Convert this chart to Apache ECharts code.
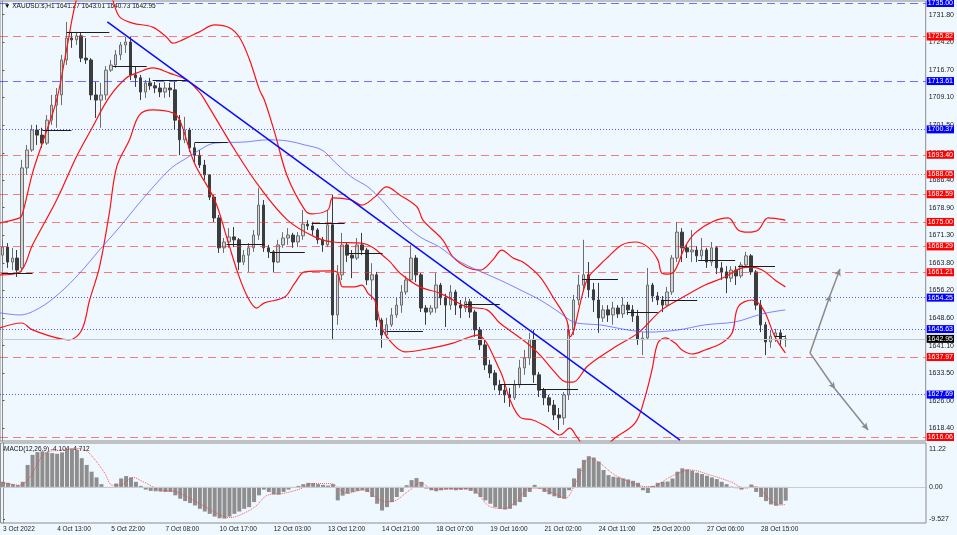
<!DOCTYPE html>
<html>
<head>
<meta charset="utf-8">
<script src="https://cdn.jsdelivr.net/npm/echarts@6/dist/echarts.min.js"></script>
<style>
  html, body { margin: 0; padding: 0; background: #f0f8ff; }
  #chart { width: 957px; height: 535px; }
</style>
</head>
<body>
<div id="chart"></div>
<script>
// XAUUSD.s H1, resampled to 3-hour candles: [open, close, low, high]
const candles = [
  [1665.9,1668.1,1663.7,1670.1],[1668.1,1664.0,1662.4,1669.2],[1664.0,1665.1,1661.8,1667.9],[1665.1,1661.8,1659.9,1667.3],
  [1662.4,1689.8,1661.3,1692.0],[1689.8,1694.7,1687.9,1696.1],[1694.7,1700.2,1694.2,1701.6],[1700.2,1698.8,1696.1,1701.6],
  [1698.8,1696.6,1695.3,1700.8],[1696.6,1702.9,1696.1,1704.3],[1702.9,1707.0,1701.6,1709.8],[1707.0,1709.8,1700.8,1711.7],
  [1709.8,1719.4,1707.0,1720.8],[1719.4,1725.4,1718.0,1729.8],[1725.4,1724.9,1722.7,1727.1],[1724.9,1726.0,1723.5,1727.1],
  [1726.0,1719.9,1718.8,1726.8],[1719.9,1719.4,1718.3,1725.4],[1719.4,1709.8,1708.4,1719.9],[1709.8,1708.4,1703.5,1713.4],
  [1708.4,1709.8,1700.8,1713.1],[1709.8,1716.6,1708.4,1717.7],[1716.6,1718.0,1716.1,1719.4],[1718.0,1720.8,1717.2,1722.1],
  [1720.8,1723.5,1719.4,1724.3],[1723.5,1724.3,1721.3,1725.7],[1724.3,1715.3,1713.9,1725.7],[1715.3,1714.5,1712.0,1717.7],
  [1714.5,1710.6,1708.4,1715.3],[1710.6,1713.1,1709.0,1713.9],[1713.1,1712.3,1711.2,1714.5],[1712.3,1711.7,1710.3,1713.4],
  [1711.7,1710.6,1709.2,1713.1],[1710.6,1711.7,1709.0,1713.4],[1711.7,1711.2,1709.2,1713.1],[1711.2,1702.9,1700.2,1713.4],
  [1702.9,1697.5,1693.3,1704.3],[1697.5,1700.2,1696.6,1703.8],[1700.2,1695.3,1694.2,1700.8],[1695.3,1693.3,1691.4,1696.6],
  [1693.3,1690.6,1689.8,1694.7],[1690.6,1687.9,1686.5,1692.0],[1687.9,1681.8,1681.0,1687.9],[1681.8,1676.1,1675.0,1682.4],
  [1676.1,1667.9,1666.5,1676.9],[1667.9,1669.5,1666.5,1670.6],[1669.5,1670.9,1667.9,1673.3],[1670.9,1670.1,1668.1,1673.6],
  [1670.1,1664.0,1661.8,1670.6],[1664.0,1665.9,1663.2,1667.3],[1665.9,1667.9,1661.3,1669.2],[1667.9,1671.4,1666.8,1672.8],
  [1671.4,1679.6,1670.1,1684.3],[1679.6,1667.9,1666.8,1681.0],[1667.9,1666.8,1665.1,1668.7],[1666.8,1664.0,1661.3,1667.3],
  [1664.0,1668.7,1663.7,1670.1],[1668.7,1670.6,1667.9,1672.2],[1670.6,1671.4,1668.7,1673.3],[1671.4,1669.5,1667.9,1672.0],
  [1669.5,1671.2,1668.1,1672.2],[1671.2,1674.4,1670.1,1678.3],[1674.4,1673.9,1672.8,1675.5],[1673.9,1672.8,1671.4,1675.0],
  [1672.8,1670.1,1669.0,1673.3],[1670.1,1668.7,1666.8,1670.9],[1668.7,1674.2,1668.1,1678.3],[1674.2,1649.5,1642.7,1682.4],
  [1649.5,1660.5,1646.8,1663.2],[1660.5,1668.7,1659.1,1672.0],[1668.7,1665.9,1664.0,1669.5],[1665.9,1665.1,1659.6,1667.3],
  [1665.1,1668.7,1664.6,1670.6],[1668.7,1667.3,1665.9,1672.0],[1667.3,1659.1,1657.7,1667.9],[1659.1,1660.5,1653.6,1663.7],
  [1660.5,1648.1,1646.2,1661.3],[1648.1,1644.0,1640.5,1648.7],[1644.0,1646.8,1643.2,1648.7],[1646.8,1649.5,1646.2,1651.4],
  [1649.5,1652.2,1648.7,1654.2],[1652.2,1655.8,1650.1,1657.7],[1655.8,1659.1,1655.0,1660.2],[1659.1,1665.1,1658.5,1668.7],
  [1665.1,1660.5,1658.5,1665.9],[1660.5,1651.4,1650.3,1661.0],[1651.4,1650.3,1646.8,1652.2],[1650.3,1651.4,1649.5,1652.2],
  [1651.4,1657.7,1650.1,1661.0],[1657.7,1654.2,1652.2,1658.3],[1654.2,1652.2,1646.2,1655.3],[1652.2,1655.8,1650.9,1657.7],
  [1655.8,1652.2,1649.5,1656.4],[1652.2,1651.4,1648.7,1653.6],[1651.4,1653.1,1650.3,1654.4],[1653.1,1650.3,1648.7,1653.9],
  [1650.3,1645.4,1643.5,1650.9],[1645.4,1641.3,1639.9,1646.2],[1641.3,1635.8,1634.4,1642.7],[1635.8,1633.6,1632.2,1637.2],
  [1633.6,1630.3,1628.9,1634.4],[1630.3,1628.9,1627.6,1631.7],[1628.9,1627.6,1625.4,1630.3],[1627.6,1626.8,1624.3,1629.5],
  [1626.8,1630.3,1626.2,1631.7],[1630.3,1635.0,1629.5,1637.2],[1635.0,1637.7,1633.1,1639.9],[1637.7,1642.7,1635.8,1644.6],
  [1642.7,1633.1,1630.9,1645.4],[1633.1,1628.9,1627.0,1633.9],[1628.9,1626.8,1624.8,1629.5],[1626.8,1624.8,1622.9,1627.6],
  [1624.8,1622.1,1620.7,1626.2],[1622.1,1621.3,1618.0,1624.0],[1621.3,1627.6,1619.4,1628.4],[1627.6,1645.4,1626.2,1646.8],
  [1645.4,1653.6,1644.0,1655.0],[1653.6,1657.7,1652.2,1660.5],[1657.7,1660.5,1655.8,1670.1],[1660.5,1656.4,1654.4,1664.0],
  [1656.4,1653.6,1650.3,1658.3],[1653.6,1648.7,1644.6,1658.3],[1648.7,1650.9,1647.6,1652.2],[1650.9,1649.5,1647.6,1652.2],
  [1649.5,1651.4,1646.8,1653.1],[1651.4,1649.8,1648.7,1652.2],[1649.8,1652.2,1648.7,1654.4],[1652.2,1650.9,1649.5,1653.1],
  [1650.9,1649.2,1647.6,1652.2],[1649.2,1642.7,1641.3,1650.9],[1642.7,1643.2,1638.5,1644.8],[1643.2,1657.7,1642.7,1662.4],
  [1657.7,1654.7,1653.1,1658.3],[1654.7,1653.6,1652.2,1655.8],[1653.6,1652.2,1650.3,1654.7],[1652.2,1655.8,1652.0,1657.2],
  [1655.8,1665.1,1655.0,1665.9],[1665.1,1672.2,1664.0,1675.0],[1672.2,1667.9,1664.0,1673.3],[1667.9,1666.8,1665.1,1668.7],
  [1666.8,1667.3,1664.0,1672.8],[1667.3,1665.7,1664.0,1668.4],[1665.7,1667.3,1664.6,1670.6],[1667.3,1664.0,1662.4,1667.9],
  [1664.0,1667.9,1662.9,1669.5],[1667.9,1662.4,1660.7,1668.4],[1662.4,1661.3,1659.1,1664.0],[1661.3,1659.6,1655.5,1662.9],
  [1659.6,1661.8,1658.5,1662.9],[1661.8,1660.2,1657.7,1662.9],[1660.2,1663.2,1659.6,1664.0],[1663.2,1665.7,1662.9,1666.8],
  [1665.7,1661.3,1660.5,1666.2],[1661.3,1652.2,1650.9,1661.8],[1652.2,1646.8,1644.8,1653.6],[1646.8,1642.1,1638.5,1647.6],
  [1642.1,1643.7,1640.5,1645.4],[1643.7,1644.6,1642.1,1645.7],[1644.6,1642.7,1641.3,1645.4],[1642.7,1642.95,1640.7,1644.0]
];

// indicator curves, [bar index, price]
const bbUpper = [
  [-0.6,1674.7],[3.5,1676.1],[4.1,1677.4],[6.1,1688.4],[8.1,1696.6],[11.0,1708.4],[13.0,1722.1],[15.0,1735.8],
  [17.7,1745.4],[19.7,1746.2],[22.4,1735.8],[23.8,1731.2],[26.4,1729.5],[30.5,1728.4],[33.3,1725.7],[34.6,1724.0],
  [36.6,1724.9],[40.0,1727.1],[43.1,1729.0],[46.1,1728.2],[48.2,1725.4],[50.2,1719.4],[52.2,1711.2],[53.2,1708.4],
  [55.3,1699.4],[57.9,1687.3],[61.4,1678.3],[62.8,1677.2],[66.1,1678.3],[67.1,1681.6],[70.9,1681.0],[73.0,1679.6],
  [75.6,1681.8],[78.0,1684.6],[80.7,1682.4],[84.2,1679.1],[85.4,1675.5],[89.4,1670.1],[91.5,1665.4],[94.3,1662.6],
  [97.0,1661.8],[99.6,1664.6],[101.4,1667.3],[103.7,1665.1],[105.7,1664.0],[109.2,1659.9],[111.8,1654.4],[114.6,1648.1],
  [115.2,1643.5],[118.7,1659.1],[121.3,1663.2],[123.0,1665.4],[125.8,1668.7],[128.5,1669.5],[131.1,1668.1],[133.1,1664.6],
  [133.9,1661.0],[135.2,1660.7],[136.6,1661.8],[138.6,1668.1],[140.7,1672.0],[144.1,1675.0],[147.4,1676.1],[149.4,1672.8],
  [151.4,1672.2],[153.5,1672.8],[155.5,1676.1],[159.0,1675.5]
];
const bbMiddle = [
  [-0.6,1660.5],[3.5,1661.3],[6.1,1668.7],[11.0,1681.0],[15.0,1692.8],[18.3,1701.0],[21.7,1709.2],[25.2,1714.5],
  [27.8,1716.1],[30.5,1717.2],[33.9,1715.8],[37.4,1713.9],[40.0,1710.6],[41.1,1708.4],[47.2,1694.7],[52.2,1684.6],
  [57.9,1675.5],[63.4,1670.9],[67.1,1669.5],[73.0,1669.2],[78.3,1664.6],[80.7,1661.0],[84.8,1657.2],[88.8,1655.5],
  [91.5,1653.6],[94.3,1651.7],[98.4,1650.9],[101.0,1647.3],[103.7,1644.6],[106.5,1641.8],[109.2,1638.5],[111.8,1634.4],
  [114.6,1631.1],[115.9,1631.1],[118.7,1635.3],[121.3,1638.0],[124.4,1640.7],[129.1,1644.6],[133.9,1650.9],[138.0,1654.2],
  [142.7,1657.7],[146.7,1659.9],[150.2,1662.4],[152.2,1662.6],[154.3,1661.8],[156.9,1659.1],[159.0,1657.2]
];
const bbLower = [
  [-0.6,1645.9],[3.9,1647.3],[6.1,1645.4],[13.6,1642.7],[16.1,1645.4],[17.7,1653.6],[19.7,1662.6],[21.7,1677.4],
  [23.2,1690.1],[25.8,1697.5],[27.8,1704.3],[30.5,1705.7],[34.6,1704.9],[36.0,1702.9],[39.0,1691.1],[43.1,1681.0],
  [45.7,1670.1],[47.8,1661.0],[49.8,1654.4],[51.6,1651.4],[53.2,1652.8],[57.3,1654.4],[59.4,1658.3],[61.4,1661.3],
  [66.9,1661.6],[68.1,1661.0],[69.1,1657.2],[71.5,1657.2],[73.0,1657.7],[74.2,1655.5],[75.6,1653.6],[77.0,1646.2],
  [79.1,1641.8],[81.7,1639.4],[87.4,1640.5],[91.5,1641.8],[94.3,1643.2],[96.4,1644.0],[101.0,1634.4],[103.1,1626.2],
  [105.1,1621.5],[107.7,1620.7],[110.6,1618.8],[113.2,1616.6],[115.2,1618.5],[116.7,1616.0],[119.3,1612.0],[121.9,1613.0],
  [124.4,1615.8],[128.5,1619.9],[130.5,1627.0],[131.9,1634.4],[133.1,1641.8],[134.6,1643.2],[136.6,1641.8],[138.0,1639.9],
  [140.0,1638.8],[142.7,1639.9],[146.1,1641.8],[148.2,1644.6],[149.4,1651.7],[152.2,1653.6],[153.5,1652.8],[154.9,1650.1],
  [156.9,1643.5],[159.0,1639.1]
];
const slowMa = [
  [-0.6,1650.1],[3.5,1649.5],[7.5,1651.4],[11.6,1655.5],[15.7,1661.0],[19.7,1667.3],[23.8,1673.6],[27.8,1680.2],
  [31.9,1686.5],[34.6,1690.1],[37.4,1692.5],[40.0,1694.7],[43.1,1696.6],[49.2,1696.9],[53.9,1697.5],[57.9,1697.2],
  [61.4,1696.1],[64.9,1694.7],[67.5,1691.4],[70.9,1687.3],[74.2,1684.6],[77.0,1681.0],[80.7,1675.5],[84.8,1670.9],
  [88.8,1668.1],[92.3,1664.6],[96.4,1661.8],[101.0,1659.1],[105.1,1656.4],[109.2,1653.6],[113.2,1650.1],[115.9,1647.6],
  [118.7,1647.0],[121.3,1646.8],[127.0,1645.4],[131.1,1644.8],[137.2,1645.4],[142.7,1646.8],[148.8,1647.6],[154.3,1649.8],
  [159.0,1650.9]
];

// horizontal levels
const redDashLevels = [1725.82, 1693.40, 1682.59, 1675.00, 1668.29, 1661.21, 1637.97, 1616.06];
const redDotLevels = [1688.05];
const blueDashLevels = [1735.00, 1713.61];
const blueDotLevels = [1700.37, 1654.25, 1645.63, 1627.69];
const lastPrice = 1642.95;

// trend line and short level segments: [start bar, end bar, price]
const trendLine = [[21.3, 1729.8], [137.6, 1615.2]];
const pivotSegments = [
  [-0.2,6.1,1661.0],[8.1,14.0,1700.2],[13.0,21.7,1727.1],[22.4,29.3,1717.7],[30.5,37.4,1713.9],
  [39.0,45.7,1696.9],[45.5,53.3,1669.0],[54.3,61.4,1666.8],[62.8,69.5,1674.7],[70.1,77.2,1666.5],
  [78.0,85.4,1645.1],[93.9,101.0,1652.5],[101.0,108.5,1630.6],[109.1,116.9,1629.2],[117.7,125.0,1659.4],
  [126.8,133.1,1650.3],[133.9,141.1,1653.6],[141.3,148.8,1664.4],[149.4,156.9,1662.9],[156.9,159.0,1643.7]
];
// projection arrows: start, middle, end
const arrowUp = [[164.0,1639.1],[168.1,1655.0],[170.1,1662.1]];
const arrowDown = [[164.0,1639.1],[169.1,1629.2],[175.8,1618.0]];

// MACD(12,26,9)
const macdHist = [
  1.5,1.2,0.8,0.5,1.5,6.5,9.5,10.3,10.5,10.2,10.0,9.8,10.2,11.0,11.3,11.0,8.5,6.5,4.5,2.8,
  0.8,-0.3,-0.3,1.0,2.5,3.2,2.8,1.5,0.3,-0.8,-1.2,-1.3,-1.4,-1.5,-1.5,-2.5,-3.5,-4.2,-4.8,-5.5,
  -6.5,-7.3,-8.0,-8.8,-9.3,-9.4,-8.8,-8.0,-7.3,-6.5,-6.0,-4.5,-2.5,-0.8,-1.5,-2.2,-2.3,-1.5,-0.8,-0.3,
  0.3,0.8,1.2,1.1,0.8,0.6,0.4,0.8,-4.0,-2.6,-2.0,-1.5,-1.2,-1.0,-1.5,-3.0,-5.0,-7.0,-6.0,-4.5,
  -3.0,-1.5,0.5,2.0,2.6,1.5,-0.5,-1.0,-1.3,-1.0,-0.8,-0.8,-1.0,-0.9,-0.8,-1.2,-2.0,-3.0,-4.0,-5.0,
  -6.0,-6.5,-6.7,-6.5,-5.5,-4.5,-3.0,-1.5,0.6,-0.5,-1.5,-2.2,-2.8,-3.3,-3.5,-1.0,2.5,5.5,8.0,9.1,
  8.7,7.5,5.0,3.5,3.0,2.8,2.5,2.2,1.8,1.2,-1.0,-1.8,0.3,1.2,1.5,1.6,2.5,4.5,5.5,5.2,
  4.8,4.2,3.8,3.3,2.8,2.3,1.5,0.8,0.1,-0.4,-0.8,-0.2,0.7,-1.5,-3.0,-4.2,-5.2,-5.6,-5.2,-4.1
];
const macdSignal = [
  [-0.6,1.5],[3.5,0.5],[5.5,3.0],[8.5,9.9],[11.6,10.9],[14.6,11.4],[16.7,10.9],[18.7,8.0],[20.7,4.0],
  [22.2,0.5],[23.8,0.5],[26.4,2.8],[28.5,1.5],[31.9,-0.9],[35.0,-1.4],[38.0,-3.4],[41.1,-5.9],[44.1,-8.3],
  [46.1,-9.1],[48.2,-8.3],[51.2,-5.9],[53.7,-2.5],[57.0,-1.9],[60.4,-0.6],[63.0,1.0],[66.5,1.0],[69.9,-1.9],
  [73.2,-0.9],[76.6,-3.9],[78.7,-4.4],[82.7,-0.9],[84.8,1.2],[87.4,-0.7],[94.9,-0.4],[99.0,-5.9],[102.0,-6.4],
  [104.1,-4.4],[107.1,-0.4],[108.5,-0.4],[112.6,-2.4],[114.2,-3.4],[116.3,1.0],[119.3,8.5],[121.3,7.0],[123.8,4.0],
  [126.4,2.0],[130.5,0.1],[131.9,0.1],[135.6,3.0],[139.6,5.0],[143.7,3.5],[147.8,1.5],[150.8,-0.4],[152.8,0.1],
  [155.9,-3.9],[157.9,-5.4],[159.0,-5.2]
];

// axis ticks
const dateLabels = ['3 Oct 2022','4 Oct 13:00','5 Oct 22:00','7 Oct 08:00','10 Oct 17:00','12 Oct 03:00',
  '13 Oct 12:00','14 Oct 21:00','18 Oct 07:00','19 Oct 16:00','21 Oct 02:00','24 Oct 11:00',
  '25 Oct 20:00','27 Oct 06:00','28 Oct 15:00'];
const priceTicks = [1731.80,1724.20,1716.70,1709.10,1701.50,1693.90,1686.40,1678.90,1671.30,
  1663.80,1656.20,1648.60,1641.10,1633.50,1626.00,1618.40];
const macdTicks = [11.22, 0, -9.527];
const macdTickText = ['11.22', '0.00', '-9.527'];

const BARS_PER_LABEL = 11;
const SLOTS = 188; // includes empty chart shift on the right
const cats = Array.from({ length: SLOTS }, (_, i) => String(i));
const FONT = 'Liberation Sans';

const chart = echarts.init(document.getElementById('chart'));

function levelLine(v, color, type, bg) {
  return {
    yAxis: v,
    lineStyle: { color: color, type: type, width: 1 },
    label: {
      show: true, position: 'end', distance: 1, formatter: v.toFixed(2),
      backgroundColor: bg, color: '#fff', fontSize: 7, fontFamily: FONT, padding: [1, 1, 0, 1]
    }
  };
}

const levelData = []
  .concat(redDashLevels.map(v => levelLine(v, 'rgba(255,40,40,0.6)', [8, 5], '#ff0000')))
  .concat(redDotLevels.map(v => levelLine(v, 'rgba(230,60,60,0.7)', [1, 2], '#ff0000')))
  .concat(blueDashLevels.map(v => levelLine(v, 'rgba(40,40,255,0.65)', [8, 5], '#0000ff')))
  .concat(blueDotLevels.map(v => levelLine(v, 'rgba(50,50,255,0.8)', [1, 2], '#0000ff')))
  .concat([levelLine(lastPrice, '#c4c8cc', 'solid', '#000000')]);

const segData = pivotSegments.map(s => [{ coord: [s[0], s[2]] }, { coord: [s[1], s[2]] }]);

function arrowSegs(a) {
  return [
    [{ coord: a[0] }, { coord: a[1] }],
    [{ coord: a[1] }, { coord: a[2] }]
  ];
}

const curve = (name, data, color, width) => ({
  name, type: 'line', xAxisIndex: 1, yAxisIndex: 0, data,
  smooth: 0.35, symbol: 'none', silent: true,
  lineStyle: { color, width }, z: 4
});

chart.setOption({
  animation: false,
  backgroundColor: '#f0f8ff',
  textStyle: { fontFamily: FONT },
  graphic: [
    { type: 'text', left: 4, top: 3,
      style: { text: '\u25BC XAUUSD.s,H1 1641.27 1643.01 1640.73 1642.95', font: '6.5px ' + FONT, fill: '#111' } },
    { type: 'text', left: 4, top: 446,
      style: { text: 'MACD(12,26,9) -4.104 -4.712', font: '6.5px ' + FONT, fill: '#111' } }
  ],
  grid: [
    { left: 0, right: 31, top: 1, height: 440, show: true, borderColor: '#8c8c8c', borderWidth: 1 },
    { left: 0, right: 31, top: 443, height: 80, show: true, borderColor: '#8c8c8c', borderWidth: 1 }
  ],
  xAxis: [
    { type: 'category', gridIndex: 0, data: cats, boundaryGap: true, show: false },
    { type: 'value', gridIndex: 0, min: -0.5, max: SLOTS - 0.5, show: false },
    { type: 'category', gridIndex: 1, data: cats, boundaryGap: true,
      axisLine: { lineStyle: { color: '#8c8c8c' } },
      axisTick: { alignWithLabel: true, length: 3, lineStyle: { color: '#555' },
        interval: i => i % BARS_PER_LABEL === 0 && i / BARS_PER_LABEL < dateLabels.length },
      axisLabel: { align: 'left', margin: 3, fontSize: 6.5, color: '#222', fontFamily: FONT,
        interval: i => i % BARS_PER_LABEL === 0 && i / BARS_PER_LABEL < dateLabels.length,
        formatter: (v, i) => dateLabels[i / BARS_PER_LABEL] || '' } },
    { type: 'value', gridIndex: 1, min: -0.5, max: SLOTS - 0.5, show: false }
  ],
  yAxis: [
    { type: 'value', gridIndex: 0, position: 'right', min: 1614.96, max: 1735.55, scale: true,
      splitLine: { show: false },
      axisLine: { show: true, lineStyle: { color: '#8c8c8c' } },
      axisTick: { show: true, customValues: priceTicks, length: 2, lineStyle: { color: '#555' } },
      axisLabel: { customValues: priceTicks, formatter: v => v.toFixed(2), fontSize: 7,
        color: '#222', margin: 3, fontFamily: FONT } },
    { type: 'value', gridIndex: 1, position: 'right', min: -10.7, max: 13.0,
      splitLine: { show: false },
      axisLine: { show: true, lineStyle: { color: '#8c8c8c' } },
      axisTick: { show: true, customValues: macdTicks, length: 2, lineStyle: { color: '#555' } },
      axisLabel: { customValues: macdTicks, fontSize: 7, color: '#222', margin: 3, fontFamily: FONT,
        formatter: v => macdTickText[macdTicks.indexOf(v)] ?? String(v) } }
  ],
  series: [
    {
      name: 'levels', type: 'line', xAxisIndex: 1, yAxisIndex: 0, data: [], z: 1,
      markLine: { symbol: 'none', silent: true, animation: false, data: levelData }
    },
    {
      name: 'XAUUSD', type: 'candlestick', xAxisIndex: 0, yAxisIndex: 0, data: candles,
      barWidth: 3, z: 3,
      itemStyle: { color: '#d4d4d4', color0: '#3c3c3c', borderColor: '#6e6e6e', borderColor0: '#3c3c3c', borderWidth: 1 }
    },
    curve('bbUpper', bbUpper, '#ff1010', 1.2),
    curve('bbMiddle', bbMiddle, '#ff1010', 1.2),
    curve('bbLower', bbLower, '#ff1010', 1.2),
    curve('ma', slowMa, 'rgba(90,90,255,0.75)', 1),
    {
      name: 'drawings', type: 'line', xAxisIndex: 1, yAxisIndex: 0, data: [], z: 5,
      markLine: {
        symbol: 'none', silent: true, animation: false, label: { show: false },
        data: [
          [{ coord: trendLine[0], lineStyle: { color: '#0a0aff', width: 1.5, type: 'solid' } },
           { coord: trendLine[1] }]
        ].concat(segData.map(s => [
          Object.assign({}, s[0], { lineStyle: { color: '#1c1c1c', width: 1, type: 'solid' } }), s[1]
        ]))
      }
    },
    {
      name: 'arrows', type: 'line', xAxisIndex: 1, yAxisIndex: 0, data: [], z: 5,
      markLine: {
        symbol: ['none', 'arrow'], symbolSize: [5, 7], silent: true, animation: false,
        label: { show: false },
        lineStyle: { color: '#8a8a8a', width: 1.5, type: 'solid' },
        data: arrowSegs(arrowUp).concat(arrowSegs(arrowDown))
      }
    },
    {
      name: 'MACD', type: 'bar', xAxisIndex: 2, yAxisIndex: 1, data: macdHist,
      barWidth: 4, itemStyle: { color: '#8e8e8e' }, silent: true,
      markLine: {
        symbol: 'none', silent: true, animation: false, label: { show: false },
        lineStyle: { color: '#c8ccd0', width: 1, type: 'solid' },
        data: [{ yAxis: 0 }]
      }
    },
    {
      name: 'Signal', type: 'line', xAxisIndex: 3, yAxisIndex: 1, data: macdSignal,
      smooth: 0.35, symbol: 'none', silent: true,
      lineStyle: { color: 'rgba(255,60,60,0.85)', width: 1, type: 'dotted' }, z: 4
    }
  ]
});
</script>
</body>
</html>
